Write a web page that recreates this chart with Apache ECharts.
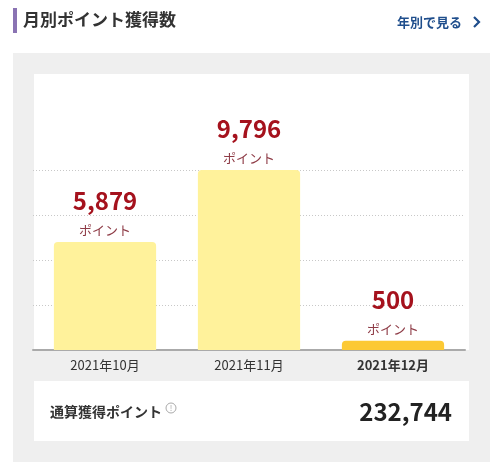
<!DOCTYPE html>
<html>
<head>
<meta charset="utf-8">
<script src="https://cdn.jsdelivr.net/npm/echarts@6/dist/echarts.min.js"></script>
<style>
html,body{margin:0;padding:0;background:#fff;}
#main{width:500px;height:466px;}
</style>
</head>
<body>
<div id="main"></div>
<script>
var categories = ['2021年10月', '2021年11月', '2021年12月'];
var points = [5879, 9796, 500];
var barColors = ['#fff29b', '#fff29b', '#fcc934'];
var totalPoints = 232744;
var titleText = '月別ポイント獲得数';
var linkText = '年別で見る';
var totalLabel = '通算獲得ポイント';
var unitText = 'ポイント';

var FONT = '"Noto Sans CJK JP", "Noto Sans", sans-serif';
function fmt(n){ return n.toLocaleString('en-US'); }
var yMax = Math.max.apply(null, points);

var chart = echarts.init(document.getElementById('main'), null, {renderer:'canvas'});
chart.setOption({
  animation: false,
  textStyle: {fontFamily: FONT},
  graphic: [
    {type:'rect', z:-10, shape:{x:13,y:53,width:477,height:409}, style:{fill:'#efefef'}},
    {type:'rect', z:-9, shape:{x:34,y:74,width:435,height:276}, style:{fill:'#ffffff'}},
    {type:'rect', z:-9, shape:{x:34,y:381,width:435,height:60}, style:{fill:'#ffffff'}},
    {type:'rect', shape:{x:13,y:8,width:4,height:25}, style:{fill:'#8a73b3'}},
    {type:'text', x:23, y:20, style:{text:titleText, fontFamily:FONT, fontSize:17, fontWeight:'bold', fill:'#333', verticalAlign:'middle'}},
    {type:'text', x:397, y:22, style:{text:linkText, fontFamily:FONT, fontSize:13, fontWeight:'bold', fill:'#1f4e8c', verticalAlign:'middle'}},
    {type:'polyline', shape:{points:[[474,17],[479,22],[474,27]]}, style:{stroke:'#1f4e8c', lineWidth:2.2, fill:null}},
    {type:'text', x:50, y:412, style:{text:totalLabel, fontFamily:FONT, fontSize:14, fontWeight:'bold', fill:'#333', verticalAlign:'middle'}},
    {type:'circle', shape:{cx:171, cy:408, r:5}, style:{fill:'#fff', stroke:'#aaa', lineWidth:1}},
    {type:'text', x:171, y:408, style:{text:'!', fontFamily:FONT, fontSize:8, fill:'#aaa', align:'center', verticalAlign:'middle'}},
    {type:'text', x:452, y:412, style:{text:fmt(totalPoints), fontFamily:FONT, fontSize:24, fontWeight:'bold', fill:'#222', align:'right', verticalAlign:'middle'}}
  ],
  grid: {left:33, right:35, top:170, bottom:116, containLabel:false},
  xAxis: {
    type:'category',
    data: categories,
    axisLine:{show:true, lineStyle:{color:'#aaa', width:2}},
    axisTick:{show:false},
    axisLabel:{
      margin:9,
      formatter:function(v, i){ return i === categories.length-1 ? '{b|'+v+'}' : '{n|'+v+'}'; },
      rich:{
        n:{fontFamily:FONT, fontSize:13, color:'#333'},
        b:{fontFamily:FONT, fontSize:13, color:'#333', fontWeight:'bold'}
      }
    }
  },
  yAxis: {
    type:'value', min:0, max:yMax, interval:yMax/4,
    axisLabel:{show:false}, axisLine:{show:false}, axisTick:{show:false},
    splitLine:{show:true, lineStyle:{color:'#c8c8c8', type:[1,2], width:1}}
  },
  series: [{
    type:'bar',
    barWidth:'71%',
    data: points.map(function(v,i){ return {value:v, itemStyle:{color:barColors[i], borderRadius:[4,4,0,0]}}; }),
    label:{
      show:true, position:'top', distance:2,
      formatter:function(p){ return '{v|'+fmt(p.value)+'}\n{u|'+unitText+'}'; },
      rich:{
        v:{fontFamily:FONT, fontSize:24, fontWeight:'bold', color:'#a5121d', lineHeight:38},
        u:{fontFamily:FONT, fontSize:13, color:'#8e3b46', lineHeight:20}
      }
    }
  }]
});
</script>
</body>
</html>
